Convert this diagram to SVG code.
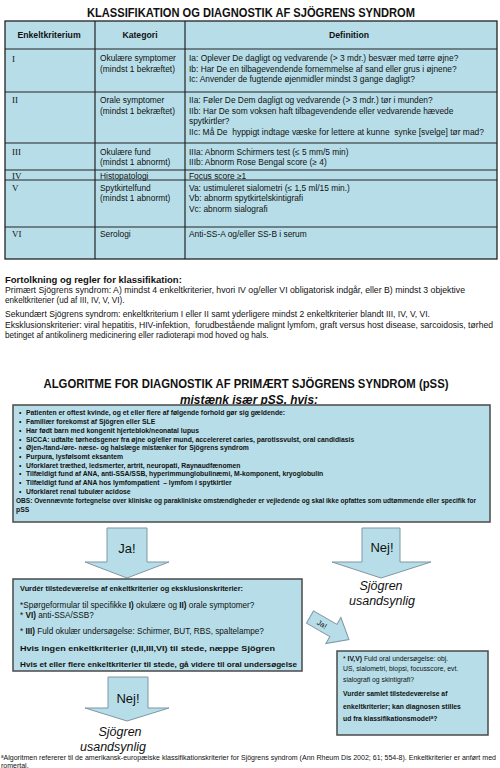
<svg xmlns="http://www.w3.org/2000/svg" width="500" height="768" viewBox="0 0 500 768">
<style>
text{font-family:"Liberation Sans",Arial,sans-serif;fill:#111}
.b{font-weight:bold}
.i{font-style:italic}
.ser{font-family:"Liberation Serif","Times New Roman",serif;font-size:9px}
.h{font-size:8.7px;font-weight:bold}
.c{font-size:8.4px}
.p{font-size:8.2px}
.bl{font-size:6.8px;font-weight:bold}
.v{font-size:8.2px}
.vb{font-size:7.6px;font-weight:bold}
.w{font-size:6.8px}
.tbl{fill:#B7DEE8;stroke:#222;stroke-width:1.3}
.ln{stroke:#222;stroke-width:1.2}
.box{fill:#B7DEE8;stroke:#4a4a4a;stroke-width:1.5}
.arr{fill:#B7DEE8;stroke:#7f97a4;stroke-width:1}
.al{font-size:13px}
.sj{font-size:12.5px;font-style:italic}
</style>
<rect width="500" height="768" fill="#fff"/>

<g id="title1">
<text x="251" y="17" text-anchor="middle" class="b" font-size="12.5" textLength="328" lengthAdjust="spacingAndGlyphs">KLASSIFIKATION OG DIAGNOSTIK AF SJÖGRENS SYNDROM</text>
</g>

<g id="table">
<rect class="tbl" x="5" y="21" width="492" height="238"/>
<line class="ln" x1="5" y1="49" x2="497" y2="49"/>
<line class="ln" x1="5" y1="92" x2="497" y2="92"/>
<line class="ln" x1="5" y1="143" x2="497" y2="143"/>
<line class="ln" x1="5" y1="170" x2="497" y2="170"/>
<line class="ln" x1="5" y1="180" x2="497" y2="180"/>
<line class="ln" x1="5" y1="227" x2="497" y2="227"/>
<line class="ln" x1="95" y1="21" x2="95" y2="259"/>
<line class="ln" x1="185" y1="21" x2="185" y2="259"/>
<text class="h" x="49" y="38" text-anchor="middle">Enkeltkriterium</text>
<text class="h" x="140" y="38" text-anchor="middle">Kategori</text>
<text class="h" x="349" y="38" text-anchor="middle">Definition</text>

<text class="ser" x="12" y="62">I</text>
<text class="c" x="100" y="61">Okulære symptomer</text>
<text class="c" x="100" y="71.5">(mindst 1 bekræftet)</text>
<text class="c" x="189" y="61">Ia: Oplever De dagligt og vedvarende (&gt; 3 mdr.) besvær med tørre øjne?</text>
<text class="c" x="189" y="71.5">Ib: Har De en tilbagevendende fornemmelse af sand eller grus i øjnene?</text>
<text class="c" x="189" y="82">Ic: Anvender de fugtende øjenmidler mindst 3 gange dagligt?</text>

<text class="ser" x="12" y="103">II</text>
<text class="c" x="100" y="103">Orale symptomer</text>
<text class="c" x="100" y="113.5">(mindst 1 bekræftet)</text>
<text class="c" x="189" y="103">IIa: Føler De Dem dagligt og vedvarende (&gt; 3 mdr.) tør i munden?</text>
<text class="c" x="189" y="113.5">IIb: Har De som voksen haft tilbagevendende eller vedvarende hævede</text>
<text class="c" x="189" y="124">spytkirtler?</text>
<text class="c" x="189" y="134.5" xml:space="preserve" textLength="295" lengthAdjust="spacingAndGlyphs">IIc: Må De  hyppigt indtage væske for lettere at kunne  synke [svelge] tør mad?</text>

<text class="ser" x="12" y="154.5">III</text>
<text class="c" x="100" y="154.5">Okulære fund</text>
<text class="c" x="100" y="165">(mindst 1 abnormt)</text>
<text class="c" x="189" y="154.5">IIIa: Abnorm Schirmers test (≤ 5 mm/5 min)</text>
<text class="c" x="189" y="165">IIIb: Abnorm Rose Bengal score (≥ 4)</text>

<text class="ser" x="12" y="178.5">IV</text>
<text class="c" x="100" y="178.5">Histopatologi</text>
<text class="c" x="189" y="178.5">Focus score ≥1</text>

<text class="ser" x="12" y="190.5">V</text>
<text class="c" x="100" y="190.5">Spytkirtelfund</text>
<text class="c" x="100" y="201">(mindst 1 abnormt)</text>
<text class="c" x="189" y="190.5">Va: ustimuleret sialometri (≤ 1,5 ml/15 min.)</text>
<text class="c" x="189" y="201">Vb: abnorm spytkirtelskintigrafi</text>
<text class="c" x="189" y="211.5">Vc: abnorm sialografi</text>

<text class="ser" x="12" y="237">VI</text>
<text class="c" x="100" y="237">Serologi</text>
<text class="c" x="189" y="237">Anti-SS-A og/eller SS-B i serum</text>
</g>

<g id="fortolkning">
<text x="5" y="283" class="b" font-size="9.5">Fortolkning og regler for klassifikation:</text>
<text class="p" x="5" y="293" textLength="460" lengthAdjust="spacingAndGlyphs">Primært Sjögrens syndrom: A) mindst 4 enkeltkriterier, hvori IV og/eller VI obligatorisk indgår, eller B) mindst 3 objektive</text>
<text class="p" x="5" y="303">enkeltkriterier (ud af III, IV, V, VI).</text>
<text class="p" x="5" y="317" textLength="425" lengthAdjust="spacingAndGlyphs">Sekundært Sjögrens syndrom: enkeltkriterium I eller II samt yderligere mindst 2 enkeltkriterier blandt III, IV, V, VI.</text>
<text class="p" x="5" y="327.5" xml:space="preserve" textLength="488" lengthAdjust="spacingAndGlyphs">Eksklusionskriterier: viral hepatitis, HIV-infektion,  forudbestående malignt lymfom, graft versus host disease, sarcoidosis, tørhed</text>
<text class="p" x="5" y="338">betinget af antikolinerg medicinering eller radioterapi mod hoved og hals.</text>
</g>

<g id="title2">
<text x="246" y="388" text-anchor="middle" class="b" font-size="12.5" textLength="405" lengthAdjust="spacingAndGlyphs">ALGORITME FOR DIAGNOSTIK AF PRIMÆRT SJÖGRENS SYNDROM (pSS)</text>
<text x="249" y="404" text-anchor="middle" class="b i" font-size="12" text-decoration="underline" textLength="138" lengthAdjust="spacingAndGlyphs">mistænk især pSS, hvis:</text>
</g>

<g id="suspect">
<rect class="box" x="13" y="405" width="477" height="117"/>
<text class="bl" x="19" y="414.5">•</text><text class="bl" x="26" y="414.5">Patienten er oftest kvinde, og et eller flere af følgende forhold gør sig gældende:</text>
<text class="bl" x="19" y="423.5">•</text><text class="bl" x="26" y="423.5">Familiær forekomst af Sjögren eller SLE</text>
<text class="bl" x="19" y="432.5">•</text><text class="bl" x="26" y="432.5">Har født barn med kongenit hjerteblok/neonatal lupus</text>
<text class="bl" x="19" y="441.5">•</text><text class="bl" x="26" y="441.5">SICCA: udtalte tørhedsgener fra øjne og/eller mund, accelereret caries, parotissvulst, oral candidiasis</text>
<text class="bl" x="19" y="450">•</text><text class="bl" x="26" y="450">Øjen-/tand-/øre- næse- og halslæge mistænker for Sjögrens syndrom</text>
<text class="bl" x="19" y="458.5">•</text><text class="bl" x="26" y="458.5">Purpura, lysfølsomt eksantem</text>
<text class="bl" x="19" y="467.5">•</text><text class="bl" x="26" y="467.5">Uforklaret træthed, ledsmerter, artrit, neuropati, Raynaudfænomen</text>
<text class="bl" x="19" y="476">•</text><text class="bl" x="26" y="476">Tilfældigt fund af ANA, anti-SSA/SSB, hyperimmunglobulinæmi, M-komponent, kryoglobulin</text>
<text class="bl" x="19" y="484.5">•</text><text class="bl" x="26" y="484.5" xml:space="preserve">Tilfældigt fund af ANA hos lymfompatient  – lymfom i spytkirtler</text>
<text class="bl" x="19" y="493.5">•</text><text class="bl" x="26" y="493.5">Uforklaret renal tubulær acidose</text>
<text class="bl" x="16" y="502.5" textLength="460" lengthAdjust="spacingAndGlyphs">OBS: Ovennævnte fortegnelse over kliniske og parakliniske omstændigheder er vejledende og skal ikke opfattes som udtømmende eller specifik for</text>
<text class="bl" x="16" y="511.5">pSS</text>
</g>

<g id="connectors">
<g id="arrow-ja">
<polygon class="arr" points="107,528 147,528 147,562 169,562 127,578 85,562 107,562"/>
<text class="al" x="127" y="553" text-anchor="middle">Ja!</text>
</g>
<g id="arrow-nej1">
<polygon class="arr" points="362,528 400,528 400,562 431,562 381,578 332,562 362,562"/>
<text class="al" x="382" y="552" text-anchor="middle">Nej!</text>
</g>
<g id="arrow-ja2" transform="translate(310 617) rotate(30)">
<polygon class="arr" points="0,-7 27,-7 27,-15 45,0 27,15 27,7 0,7"/>
<text x="14" y="2.8" font-size="7.5" text-anchor="middle">Ja!</text>
</g>
<g id="arrow-nej2">
<polygon class="arr" points="108,677 148,677 148,708 169,708 127,721 85,708 108,708"/>
<text class="al" x="128" y="703" text-anchor="middle">Nej!</text>
</g>
</g>

<g id="unlikely1">
<text class="sj" x="381" y="590" text-anchor="middle">Sjögren</text>
<text class="sj" x="382" y="605" text-anchor="middle">usandsynlig</text>
</g>

<g id="assess">
<rect class="box" x="13" y="579" width="289" height="92"/>
<text class="vb" x="20" y="590.5" textLength="223" lengthAdjust="spacingAndGlyphs">Vurdér tilstedeværelse af enkeltkriterier og eksklusionskriterier:</text>
<text class="v" x="20" y="607.5">*Spørgeformular til specifikke <tspan class="b">I)</tspan> okulære og <tspan class="b">II)</tspan> orale symptomer?</text>
<text class="v" x="20" y="617.5">* <tspan class="b">VI)</tspan> anti-SSA/SSB?</text>
<text class="v" x="20" y="633.5">* <tspan class="b">III)</tspan> Fuld okulær undersøgelse: Schirmer, BUT, RBS, spaltelampe?</text>
<text class="vb" x="20" y="650.5" textLength="255" lengthAdjust="spacingAndGlyphs">Hvis ingen enkeltkriterier (I,II,III,VI) til stede, næppe Sjögren</text>
<text class="vb" x="20" y="666.5" textLength="277" lengthAdjust="spacingAndGlyphs">Hvis et eller flere enkeltkriterier til stede, gå videre til oral undersøgelse</text>
</g>

<g id="oral">
<rect class="box" x="337" y="651" width="151" height="84"/>
<text class="w" x="343" y="660.5">* <tspan class="b">IV,V)</tspan> Fuld oral undersøgelse: obj.</text>
<text class="w" x="343" y="671">US, sialometri, biopsi, focusscore, evt.</text>
<text class="w" x="343" y="681.5">sialografi og skintigrafi?</text>
<text class="w b" x="343" y="696">Vurdér samlet tilstedeværelse af</text>
<text class="w b" x="343" y="709">enkeltkriterier; kan diagnosen stilles</text>
<text class="w b" x="343" y="721">ud fra klassifikationsmodel<tspan font-size="4.5" dy="-2.5">a</tspan><tspan dy="2.5">?</tspan></text>
</g>

<g id="unlikely2">
<text class="sj" x="120" y="736" text-anchor="middle">Sjögren</text>
<text class="sj" x="113" y="751" text-anchor="middle">usandsynlig</text>
</g>

<g id="footnote">
<text x="1" y="760" font-size="7" textLength="495" lengthAdjust="spacingAndGlyphs"><tspan font-size="4.5" dy="-2">a</tspan><tspan dy="2">Algoritmen refererer til de amerikansk-europæiske klassifikationskriterier for Sjögrens syndrom (Ann Rheum Dis 2002; 61; 554-8). Enkeltkriterier er anført med</tspan></text>
<text x="1" y="767.5" font-size="7">romertal.</text>
</g>
</svg>
